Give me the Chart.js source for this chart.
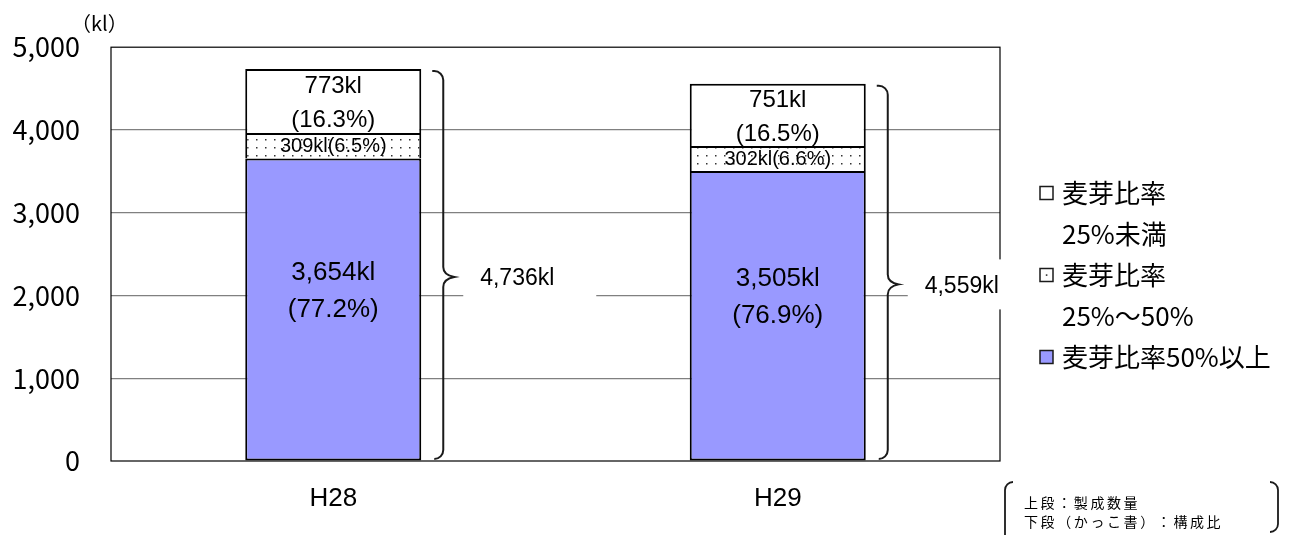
<!DOCTYPE html>
<html lang="ja">
<head>
<meta charset="utf-8">
<title>麦芽比率別 製成数量</title>
<script src="https://cdn.jsdelivr.net/npm/chart.js@4.4.1/dist/chart.umd.min.js"></script>
<style>
html,body{margin:0;padding:0;background:#fff;}
canvas{display:block;}
</style>
</head>
<body>
<canvas id="c" width="1298" height="535"></canvas>
<script>
// 年度別・麦芽比率別の製成数量（kl）と構成比（%）
const categories = ['H28', 'H29'];
const malt50Plus = [3654, 3505];
const malt25to50 = [309, 302];
const maltUnder25 = [773, 751];
const totalVolume = [4736, 4559];
const share50Plus = ['77.2', '76.9'];
const share25to50 = ['6.5', '6.6'];
const shareUnder25 = ['16.3', '16.5'];
const yTicks = [0, 1000, 2000, 3000, 4000, 5000];
const seriesNames = ['麦芽比率50%以上', '麦芽比率25%～50%', '麦芽比率25%未満'];
const legendLines = [['麦芽比率', '25%未満'], ['麦芽比率', '25%～50%'], ['麦芽比率50%以上']];
const noteLines = ['上段：製成数量', '下段（かっこ書）：構成比'];
const unitLabel = '（kl）';

const CJK = '"Noto Sans CJK JP", "Noto Sans", sans-serif';
const LAT = '"Liberation Sans", Arial, sans-serif';
const BLUE = '#9999FF';

const kl = v => v.toLocaleString('en-US') + 'kl';

// 白地に点を並べた網掛け
function dotPattern() {
  const c = document.createElement('canvas');
  c.width = 9; c.height = 8;
  const g = c.getContext('2d');
  g.fillStyle = '#fff'; g.fillRect(0, 0, 9, 8);
  g.fillStyle = '#333'; g.fillRect(4, 3, 1.5, 1.5);
  return g.createPattern(c, 'repeat');
}

function brace(ctx, x, top, bottom, tipY) {
  const r = 9, w = 11;
  ctx.save();
  ctx.strokeStyle = '#1a1a1a';
  ctx.lineWidth = 2;
  ctx.beginPath();
  ctx.moveTo(x - w, top);
  ctx.arcTo(x, top, x, top + r, r);
  ctx.lineTo(x, tipY - 10);
  ctx.quadraticCurveTo(x, tipY - 2, x + w, tipY);
  ctx.quadraticCurveTo(x, tipY + 2, x, tipY + 10);
  ctx.lineTo(x, bottom - r);
  ctx.arcTo(x, bottom, x - w, bottom, r);
  ctx.stroke();
  ctx.restore();
}

const framePlugin = {
  id: 'frame',
  beforeDatasetsDraw(chart) {
    const { ctx, chartArea: a } = chart;
    ctx.save();
    ctx.strokeStyle = '#000';
    ctx.lineWidth = 1.2;
    ctx.strokeRect(a.left, a.top, a.right - a.left, a.bottom - a.top);
    ctx.restore();
  }
};

const labelPlugin = {
  id: 'labels',
  afterDatasetsDraw(chart) {
    const { ctx, chartArea: a } = chart;
    const m0 = chart.getDatasetMeta(0), m1 = chart.getDatasetMeta(1), m2 = chart.getDatasetMeta(2);
    ctx.save();
    ctx.textAlign = 'center';
    ctx.textBaseline = 'middle';
    ctx.fillStyle = '#000';
    categories.forEach((cat, j) => {
      const b0 = m0.data[j], b1 = m1.data[j], b2 = m2.data[j];
      // 50%以上
      const mid0 = (b0.y + b0.base) / 2;
      ctx.font = '26px ' + LAT;
      ctx.fillText(kl(malt50Plus[j]), b0.x, mid0 - 37);
      ctx.fillText('(' + share50Plus[j] + '%)', b0.x, mid0);
      // 25%～50%
      ctx.font = '20px ' + LAT;
      ctx.fillText(kl(malt25to50[j]) + '(' + share25to50[j] + '%)', b1.x, (b1.y + b1.base) / 2 + 1);
      // 25%未満
      ctx.font = '24px ' + LAT;
      ctx.fillText(kl(maltUnder25[j]), b2.x, b2.y + 17);
      ctx.fillText('(' + shareUnder25[j] + '%)', b2.x, b2.y + 51);

      // 合計の中括弧とラベル
      const right = b2.x + b2.width / 2;
      const bx = right + 22;
      const top = b2.y + 2;
      const bottom = a.bottom - 2;
      const tipY = (top + bottom) / 2 + 12;
      brace(ctx, bx, top, bottom, tipY);
      const boxL = bx + 20;
      const boxR = Math.min(boxL + 133, a.right + 3);
      ctx.fillStyle = '#fff';
      ctx.fillRect(boxL, tipY - 25, boxR - boxL, 50);
      ctx.fillStyle = '#000';
      ctx.font = '23px ' + LAT;
      ctx.fillText(kl(totalVolume[j]), right + 96, tipY + 2);
    });
    ctx.restore();
  },
  afterDraw(chart) {
    const { ctx, chartArea: a } = chart;
    ctx.save();
    ctx.fillStyle = '#000';
    ctx.textBaseline = 'middle';
    // 単位
    ctx.font = '20px ' + CJK;
    ctx.textAlign = 'left';
    ctx.fillText(unitLabel, a.left - 40, 23);

    // 凡例（上から 25%未満・25%～50%・50%以上）
    const fills = ['#fff', 'dot', BLUE];
    const lx = 1040, tx = 1062, lh = 41;
    let y = 193;
    ctx.font = '26px ' + CJK;
    legendLines.forEach((lines, i) => {
      ctx.fillStyle = fills[i] === BLUE ? BLUE : '#fff';
      ctx.fillRect(lx, y - 6.5, 13, 13);
      ctx.strokeStyle = '#1a1a1a';
      ctx.lineWidth = 1.5;
      ctx.strokeRect(lx, y - 6.5, 13, 13);
      if (fills[i] === 'dot') {
        ctx.fillStyle = '#333';
        ctx.fillRect(lx + 5.8, y - 0.7, 1.6, 1.6);
      }
      ctx.fillStyle = '#000';
      lines.forEach(t => {
        ctx.fillText(t, tx, y);
        y += lh;
      });
    });

    // 注記
    ctx.strokeStyle = '#1a1a1a';
    ctx.lineWidth = 1.8;
    ctx.beginPath();
    ctx.moveTo(1013, 482);
    ctx.arcTo(1005, 482, 1005, 492, 8);
    ctx.lineTo(1005, 540);
    ctx.stroke();
    ctx.beginPath();
    ctx.moveTo(1270, 482);
    ctx.arcTo(1278, 482, 1278, 492, 8);
    ctx.lineTo(1278, 524);
    ctx.arcTo(1278, 532, 1270, 532, 8);
    ctx.stroke();
    ctx.font = '14px ' + CJK;
    ctx.textAlign = 'left';
    noteLines.forEach((t, i) => {
      [...t].forEach((ch, k) => ctx.fillText(ch, 1024 + k * 16.6, 503 + i * 19));
    });
    ctx.restore();
  }
};

const barStyle = {
  borderColor: '#000', borderWidth: 2,
  categoryPercentage: 1, barPercentage: 0.396
};

new Chart(document.getElementById('c'), {
  type: 'bar',
  data: {
    labels: categories,
    datasets: [
      { label: seriesNames[0], data: malt50Plus, backgroundColor: BLUE, borderSkipped: false, ...barStyle },
      { label: seriesNames[1], data: malt25to50, backgroundColor: dotPattern(), borderSkipped: 'start', ...barStyle },
      { label: seriesNames[2], data: maltUnder25, backgroundColor: '#fff', borderSkipped: 'start', ...barStyle }
    ]
  },
  options: {
    responsive: false,
    devicePixelRatio: 1,
    animation: false,
    layout: { padding: { top: 47, right: 298, bottom: 0, left: 0 } },
    plugins: { legend: { display: false }, tooltip: { enabled: false } },
    scales: {
      x: {
        stacked: true,
        grid: { display: false, drawTicks: false },
        border: { display: false },
        ticks: { color: '#000', font: { family: LAT, size: 26 }, padding: 22 },
        afterFit(s) { s.height = 74; }
      },
      y: {
        stacked: true,
        min: 0, max: 5000,
        afterBuildTicks(s) { s.ticks = yTicks.map(v => ({ value: v })); },
        grid: {
          drawTicks: false,
          color: c => (c.tick && (c.tick.value === 0 || c.tick.value === 5000)) ? 'rgba(0,0,0,0)' : '#808080',
          lineWidth: 1.2
        },
        border: { display: false },
        ticks: {
          color: '#000', padding: 31,
          font: { family: CJK, size: 27 },
          callback: v => v.toLocaleString('en-US')
        },
        afterFit(s) { s.width = 111; }
      }
    }
  },
  plugins: [framePlugin, labelPlugin]
});
</script>
</body>
</html>
